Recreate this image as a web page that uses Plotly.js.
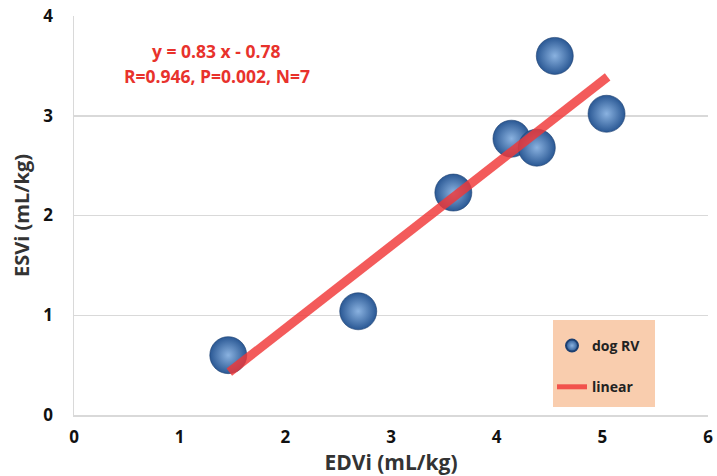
<!DOCTYPE html>
<html>
<head>
<meta charset="utf-8">
<script src="https://cdn.plot.ly/plotly-3.0.1.min.js"></script>
<style>html,body{margin:0;padding:0;background:#fff;}#chart{width:717px;height:476px;}</style>
</head>
<body>
<div id="chart"></div>
<script>
// Data
var edvi = [1.46, 2.69, 3.59, 4.14, 4.38, 4.55, 5.04];
var esvi = [0.60, 1.04, 2.23, 2.77, 2.68, 3.60, 3.02];
var fitX = [1.47, 5.05];
var fitY = [0.43, 3.39];
var seriesNames = ['dog RV', 'linear'];
var xTicks = [0, 1, 2, 3, 4, 5, 6];
var yTicks = [0, 1, 2, 3, 4];
var eqText = 'y = 0.83 x - 0.78';
var statText = 'R=0.946, P=0.002, N=7';

var font = '"Open Sans", Lato, "DejaVu Sans", sans-serif';

function px2x(p) { return (p - 74) / 634; }
function px2y(p) { return (415 - p) / 399; }

var traces = [
  {
    x: edvi, y: esvi, type: 'scatter', mode: 'markers', name: seriesNames[0],
    legendgroup: 'a',
    marker: {
      size: 37, color: '#2a5894',
      gradient: {type: 'radial', color: '#8ab2e0'},
      line: {width: 0.6, color: '#1d3f70'}
    }
  },
  {
    x: fitX, y: fitY, type: 'scatter', mode: 'lines', name: seriesNames[1],
    legendgroup: 'b',
    line: {color: 'rgba(240,55,55,0.82)', width: 9}
  }
];

var layout = {
  width: 717, height: 476,
  margin: {l: 74, r: 9, t: 16, b: 61},
  paper_bgcolor: '#ffffff', plot_bgcolor: '#ffffff',
  font: {family: font, color: '#000'},
  showlegend: true,
  legend: {
    x: px2x(552), y: px2y(330), xanchor: 'left', yanchor: 'top',
    bgcolor: 'rgba(0,0,0,0)', borderwidth: 0,
    font: {family: font, size: 14, color: '#222', weight: 'bold'},
    tracegroupgap: 20, itemsizing: 'constant', itemwidth: 30
  },
  shapes: [
    {type: 'rect', xref: 'paper', yref: 'paper', layer: 'below',
     x0: px2x(553), x1: px2x(655), y0: px2y(407), y1: px2y(320),
     fillcolor: '#f9cdae', line: {width: 0}}
  ],
  xaxis: {
    range: [0, 6], tickvals: xTicks, ticktext: xTicks.map(String),
    showgrid: false, zeroline: false,
    showline: true, linecolor: '#d9d9d9', linewidth: 1.5,
    ticks: '', ticklabelstandoff: 6,
    tickfont: {family: font, size: 17, color: '#111', weight: 'bold'},
    title: {text: 'EDVi (mL/kg)', font: {family: font, size: 21, color: '#333', weight: 'bold'}, standoff: 2}
  },
  yaxis: {
    range: [0, 4], tickvals: yTicks, ticktext: yTicks.map(String),
    showgrid: true, gridcolor: '#d9d9d9', gridwidth: 1.5, zeroline: false,
    showline: true, linecolor: '#d9d9d9', linewidth: 1.5,
    ticks: '', ticklabelstandoff: 16,
    tickfont: {family: font, size: 17, color: '#111', weight: 'bold'},
    title: {text: 'ESVi (mL/kg)', font: {family: font, size: 20, color: '#333', weight: 'bold'}, standoff: 8}
  },
  annotations: [
    {xref: 'paper', yref: 'paper', x: px2x(216), y: px2y(51), xanchor: 'center', yanchor: 'middle',
     text: eqText, showarrow: false,
     font: {family: font, size: 17.5, color: '#e8322c', weight: 'bold'}},
    {xref: 'paper', yref: 'paper', x: px2x(217), y: px2y(76), xanchor: 'center', yanchor: 'middle',
     text: statText, showarrow: false,
     font: {family: font, size: 17.5, color: '#e8322c', weight: 'bold'}}
  ]
};

Plotly.newPlot('chart', traces, layout, {displayModeBar: false, staticPlot: true});
</script>
</body>
</html>
